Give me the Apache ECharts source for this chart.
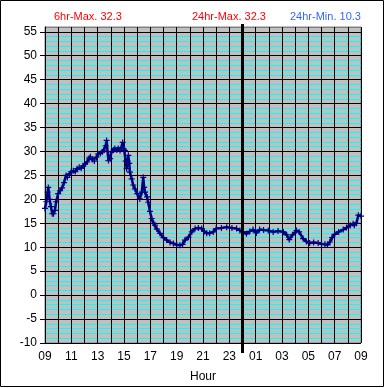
<!DOCTYPE html>
<html>
<head>
<meta charset="utf-8">
<script src="https://cdn.jsdelivr.net/npm/echarts@6/dist/echarts.min.js"></script>
<style>
html,body{margin:0;padding:0;background:#fff;}
#c{width:385px;height:388px;}
</style>
</head>
<body>
<div id="c"></div>
<script>
// hours since 09:00
const hours = [0.0,0.1,0.2,0.25,0.35,0.45,0.55,0.65,0.75,0.85,1.0,1.15,1.3,1.45,1.6,1.7,1.85,2.0,2.15,2.3,2.45,2.6,2.75,2.9,3.05,3.2,3.35,3.45,3.6,3.75,3.9,4.05,4.2,4.35,4.5,4.6,4.68,4.75,4.82,4.95,5.06,5.2,5.3,5.45,5.56,5.7,5.8,5.9,6.0,6.07,6.13,6.2,6.27,6.33,6.4,6.45,6.58,6.7,6.83,7.0,7.2,7.35,7.46,7.53,7.6,7.75,7.84,7.97,8.1,8.25,8.35,8.5,8.73,9.0,9.24,9.5,9.75,10.0,10.25,10.45,10.63,10.9,11.15,11.4,11.65,11.9,12.1,12.28,12.5,12.78,13.0,13.4,13.8,14.2,14.55,14.8,15.05,15.3,15.55,15.8,16.05,16.3,16.6,16.96,17.33,17.7,18.1,18.35,18.55,18.8,19.1,19.3,19.6,19.85,20.1,20.4,20.75,21.0,21.26,21.45,21.64,21.8,22.0,22.3,22.65,22.9,23.2,23.4,23.5,23.65,23.8,24.0];
const temps = [18.1,19.5,21.5,22.5,20.0,18.5,17.0,17.0,17.7,19.5,21.2,21.8,22.4,23.5,25.0,24.6,25.3,25.8,26.0,25.8,26.4,26.7,26.5,27.0,27.4,27.8,28.6,28.9,28.3,28.0,28.8,29.5,29.6,29.9,30.3,31.2,32.3,30.0,28.1,28.5,29.9,30.3,30.6,30.3,30.6,30.2,30.8,31.9,30.5,30.2,28.0,26.4,28.0,29.2,27.5,25.7,24.3,23.0,22.2,21.2,20.1,21.5,24.6,22.5,21.5,20.5,19.4,17.5,16.0,15.0,14.6,13.8,12.9,12.0,11.5,11.0,10.8,10.5,10.4,10.6,11.5,12.1,13.2,13.9,14.0,13.9,13.3,12.9,12.9,13.2,13.9,14.0,14.2,14.0,13.9,13.5,13.2,12.8,13.3,13.7,13.0,13.7,13.6,13.5,13.2,13.4,13.2,12.6,11.6,12.6,13.5,13.2,11.8,11.2,10.9,11.0,10.9,10.7,10.6,10.5,11.1,12.0,12.7,13.2,13.7,14.1,14.6,14.9,14.6,15.0,16.7,16.5];
const tickLabels = ['09','11','13','15','17','19','21','23','01','03','05','07','09'];
const midnightHour = 15;
const titles = ['6hr-Max. 32.3','24hr-Max. 32.3','24hr-Min. 10.3'];

const chart = echarts.init(document.getElementById('c'), null, {renderer:'canvas'});
const FONT = 'Liberation Sans, Arial, sans-serif';
const plus = 'path://M4,0H6V4H10V6H6V10H4V6H0V4H4Z';
const ySplitColors = [];
for (let i = 0; i < 14; i++) ySplitColors.push('#000000');
ySplitColors.push('#808080');

const option = {
  animation: false,
  backgroundColor: '#ffffff',
  title: [
    {text: titles[0], left: 54, top: 11, padding:0, textStyle:{color:'#ff0000', fontSize:11, fontWeight:'normal', fontFamily:FONT}},
    {text: titles[1], left: 192, top: 11, padding:0, textStyle:{color:'#ff0000', fontSize:11, fontWeight:'normal', fontFamily:FONT}},
    {text: titles[2], left: 290, top: 11, padding:0, textStyle:{color:'#3366ff', fontSize:11, fontWeight:'normal', fontFamily:FONT}}
  ],
  grid: {left:45, right:24, top:27, bottom:45, show:true, backgroundColor:'#c0c0c0', borderColor:'#808080', borderWidth:1},
  xAxis: [
    {type:'value', min:0, max:24, interval:1, z:1,
     axisLine:{show:true, lineStyle:{color:'#000', width:1}},
     axisTick:{show:false}, axisLabel:{show:false},
     splitLine:{show:true, lineStyle:{color:'#000', width:1}},
     name:'Hour', nameLocation:'middle', nameGap:28,
     nameTextStyle:{color:'#000', fontSize:12, fontFamily:FONT}},
    {type:'value', min:0, max:24, interval:2, position:'bottom', z:1,
     axisLine:{show:false},
     axisTick:{show:true, length:5, lineStyle:{color:'#000'}},
     axisLabel:{show:true, margin:8, color:'#000', fontSize:12, fontFamily:FONT,
       formatter:function(v){ return tickLabels[Math.round(v/2)] || ''; }},
     splitLine:{show:false}}
  ],
  yAxis: [
    {type:'value', min:-10, max:56, interval:5, z:1,
     axisLine:{show:true, lineStyle:{color:'#000'}},
     axisTick:{show:true, length:5, lineStyle:{color:'#000'}},
     axisLabel:{color:'#000', fontSize:12, fontFamily:FONT, margin:8, showMaxLabel:false,
       formatter:function(v){ return (v % 5 === 0) ? String(v) : ''; }},
     splitLine:{show:true, lineStyle:{color:ySplitColors, width:1}}},
    {type:'value', min:-10, max:56, interval:1, z:0,
     axisLine:{show:false}, axisTick:{show:false}, axisLabel:{show:false},
     splitLine:{show:true, lineStyle:{color:'#00ffff', width:1}}}
  ],
  series: [{
    type:'line', xAxisIndex:0, yAxisIndex:0, z:3,
    data: hours.map((h,i)=>[h, temps[i]]),
    symbol: plus, symbolSize:6, showAllSymbol:true,
    itemStyle:{color:'#000080'},
    lineStyle:{color:'#000080', width:2.5}
  }]
};
chart.setOption(option);

const mx = chart.convertToPixel({xAxisIndex:0}, midnightHour);
const yTop = chart.convertToPixel({yAxisIndex:0}, 56) - 3;
const yBot = chart.convertToPixel({yAxisIndex:0}, -10) + 10;
chart.setOption({
  graphic: [
    {type:'line', shape:{x1:mx, y1:yTop, x2:mx, y2:yBot}, style:{stroke:'#000', lineWidth:3}, z:10},
    {type:'rect', shape:{x:0.5, y:0.5, width:383, height:386}, style:{fill:null, stroke:'#000', lineWidth:1}, z:10, silent:true}
  ]
});
</script>
</body>
</html>
